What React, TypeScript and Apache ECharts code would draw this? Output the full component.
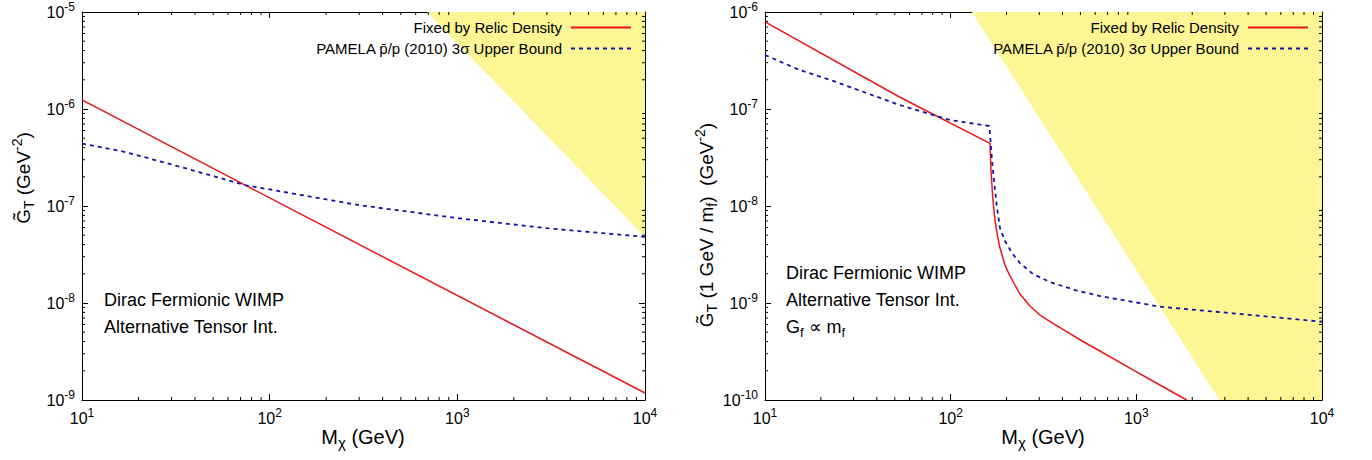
import React, { useEffect, useRef } from 'react';
import * as echarts from 'echarts';

const RELIC_NAME = 'Fixed by Relic Density';
const PAMELA_NAME = 'PAMELA p\u0304/p (2010) 3\u03c3 Upper Bound';

// Left panel: [M_chi (GeV), G_T (GeV^-2)]
const leftRelic: number[][] = [[10, 1.24e-6], [74, 1.64e-7], [170, 7.1e-8], [10000, 1.18e-9]];
const leftPamela: number[][] = [[10, 4.4e-7], [16, 3.7e-7], [25, 2.95e-7], [40, 2.3e-7], [74, 1.64e-7], [100, 1.48e-7], [300, 1.02e-7], [1000, 7.5e-8], [3000, 5.9e-8], [10000, 4.8e-8]];
const leftExcluded: number[][] = [[690, 1e-5], [10000, 4.8e-8]];

// Right panel: [M_chi (GeV), G_T (1 GeV / m_f) (GeV^-2)]
const rightRelic: number[][] = [
  [10, 7.9e-7], [53, 1.33e-7], [162.8, 4.43e-8], [164.8, 2.35e-8], [168.9, 1.153e-8], [173.2, 7.17e-9],
  [178.7, 4.91e-9], [184.3, 3.69e-9], [196.1, 2.46e-9], [208.6, 1.9e-9], [222, 1.533e-9], [236.1, 1.238e-9],
  [267.3, 9.31e-10], [302.7, 7.52e-10], [355.6, 6.15e-10], [421.4, 5.06e-10], [515.8, 4.01e-10],
  [636.8, 3.2e-10], [959, 2.04e-10], [1340, 1.427e-10], [1866, 1.0e-10],
];
const rightPamela: number[][] = [
  [10, 3.6e-7], [15.4, 2.52e-7], [22.4, 2.0e-7], [53, 1.1e-7], [99, 7.7e-8], [161.4, 6.68e-8],
  [163.8, 4.79e-8], [166.9, 2.98e-8], [171.1, 1.85e-8], [176.9, 1.02e-8], [184.3, 5.93e-9], [196.1, 4.36e-9],
  [213.8, 3.28e-9], [236.1, 2.58e-9], [277.5, 1.99e-9], [342.4, 1.646e-9], [467, 1.36e-9], [636.8, 1.18e-9],
  [1340, 9.16e-10], [3313, 7.83e-10], [10000, 6.41e-10],
];
const rightExcluded: number[][] = [[130, 1e-6], [2800, 1e-10], [10000, 1e-10]];

const xRange = [10, 1e4];
const leftYRange = [1e-9, 1e-5];
const rightYRange = [1e-10, 1e-6];
const minorMultipliers = [2, 3, 4, 5, 6, 7, 8, 9];

const FONT = '"Liberation Sans", Arial, Helvetica, sans-serif';
const RED = '#e8161b';
const BLUE = '#1414a8';
const YELLOW = '#fcf695';

function minorValues(lo: number, hi: number): number[] {
  const out: number[] = [];
  for (let d = lo; d < hi * 0.999; d *= 10) {
    for (const m of minorMultipliers) out.push(d * m);
  }
  return out;
}

const supRich = {
  b: { fontSize: 16, lineHeight: 22, fontFamily: FONT, color: '#000' },
  s: { fontSize: 12, lineHeight: 12, verticalAlign: 'top', fontFamily: FONT, color: '#000' },
};

const labelFmt = (v: number) => `{b|10}{s|${Math.round(Math.log10(v))}}`;

function makeAxes(gridIndex: number, yr: number[]) {
  const axisLine = { show: true, onZero: false, lineStyle: { color: '#000', width: 1 } };
  const tick = { show: true, inside: true, length: 6, lineStyle: { color: '#000', width: 1 } };
  const x = [
    {
      type: 'log', gridIndex, min: xRange[0], max: xRange[1], position: 'bottom',
      axisLine, axisTick: tick, splitLine: { show: false },
      axisLabel: { formatter: labelFmt, rich: supRich, margin: 7 },
    },
    {
      type: 'log', gridIndex, min: xRange[0], max: xRange[1], position: 'top',
      axisLine, axisTick: tick, splitLine: { show: false }, axisLabel: { show: false },
    },
  ];
  const y = [
    {
      type: 'log', gridIndex, min: yr[0], max: yr[1], position: 'left',
      axisLine, axisTick: tick, splitLine: { show: false },
      axisLabel: { formatter: labelFmt, rich: supRich, margin: 7 },
    },
    {
      type: 'log', gridIndex, min: yr[0], max: yr[1], position: 'right',
      axisLine, axisTick: tick, splitLine: { show: false }, axisLabel: { show: false },
    },
  ];
  return { x, y };
}

function minorTickSeries(xIdx: number, yIdx: number, yr: number[]) {
  const tickStyle = { stroke: '#000', lineWidth: 1 };
  const xs = minorValues(xRange[0], xRange[1]);
  const ys = minorValues(yr[0], yr[1]);
  return [
    {
      type: 'custom', xAxisIndex: xIdx, yAxisIndex: yIdx, silent: true, z: 6, clip: false,
      data: xs.map((v) => [v, yr[0]]),
      renderItem: (_p: any, api: any) => {
        const v = api.value(0);
        const b = api.coord([v, yr[0]]);
        const t = api.coord([v, yr[1]]);
        return {
          type: 'group',
          children: [
            { type: 'line', shape: { x1: b[0], y1: b[1], x2: b[0], y2: b[1] - 3 }, style: tickStyle },
            { type: 'line', shape: { x1: t[0], y1: t[1], x2: t[0], y2: t[1] + 3 }, style: tickStyle },
          ],
        };
      },
    },
    {
      type: 'custom', xAxisIndex: xIdx, yAxisIndex: yIdx, silent: true, z: 6, clip: false,
      data: ys.map((v) => [xRange[0], v]),
      renderItem: (_p: any, api: any) => {
        const v = api.value(1);
        const l = api.coord([xRange[0], v]);
        const r = api.coord([xRange[1], v]);
        return {
          type: 'group',
          children: [
            { type: 'line', shape: { x1: l[0], y1: l[1], x2: l[0] + 3, y2: l[1] }, style: tickStyle },
            { type: 'line', shape: { x1: r[0], y1: r[1], x2: r[0] - 3, y2: r[1] }, style: tickStyle },
          ],
        };
      },
    },
  ];
}

function panelSeries(xIdx: number, yIdx: number, relic: number[][], pamela: number[][], excl: number[][]) {
  return [
    {
      type: 'line', xAxisIndex: xIdx, yAxisIndex: yIdx, data: excl, symbol: 'none', silent: true, z: 1,
      lineStyle: { width: 0, opacity: 0 },
      areaStyle: { color: YELLOW, opacity: 1, origin: 'end' },
    },
    {
      name: RELIC_NAME, type: 'line', xAxisIndex: xIdx, yAxisIndex: yIdx, data: relic, symbol: 'none', z: 3,
      lineStyle: { color: RED, width: 1.5 }, itemStyle: { color: RED },
    },
    {
      name: PAMELA_NAME, type: 'line', xAxisIndex: xIdx, yAxisIndex: yIdx, data: pamela, symbol: 'none', z: 3,
      lineStyle: { color: BLUE, width: 1.8, type: [4, 4] }, itemStyle: { color: BLUE },
    },
  ];
}

const nameRich = {
  m: { fontSize: 19, fontFamily: FONT, color: '#000', lineHeight: 26 },
  s: { fontSize: 14, fontFamily: FONT, color: '#000', lineHeight: 14, verticalAlign: 'bottom' },
  p: { fontSize: 14, fontFamily: FONT, color: '#000', lineHeight: 14, verticalAlign: 'top' },
};
const xNameRich = {
  m: { fontSize: 20, fontFamily: FONT, color: '#000', lineHeight: 26 },
  s: { fontSize: 15, fontFamily: FONT, color: '#000', lineHeight: 14, verticalAlign: 'bottom' },
};
const annRich = {
  m: { fontSize: 18, fontFamily: FONT, color: '#000', lineHeight: 24 },
  s: { fontSize: 13, fontFamily: FONT, color: '#000', lineHeight: 13, verticalAlign: 'bottom' },
};

function textEl(x: number, y: number, text: string, rich: any, rotation = 0, align = 'left') {
  return {
    type: 'text', x, y, rotation, z: 10,
    style: { text, rich, align, verticalAlign: 'middle', fill: '#000' },
  };
}

function legend(right: number) {
  return {
    orient: 'vertical', right, top: 20, align: 'right', padding: 0,
    itemWidth: 60, itemHeight: 14, itemGap: 6,
    itemStyle: { color: 'rgba(0,0,0,0)', borderWidth: 0, opacity: 0 },
    textStyle: { fontSize: 15, fontFamily: FONT, color: '#000', padding: [0, 4, 0, 0] },
    data: [RELIC_NAME, PAMELA_NAME],
    selectedMode: false,
  };
}

export default function App() {
  const ref = useRef<HTMLDivElement>(null);
  useEffect(() => {
    if (!ref.current) return;
    const chart = echarts.init(ref.current, null, { renderer: 'svg' });
    const a0 = makeAxes(0, leftYRange);
    const a1 = makeAxes(1, rightYRange);
    const option: any = {
      animation: false,
      backgroundColor: '#fff',
      textStyle: { fontFamily: FONT },
      grid: [
        { left: 82, top: 12, width: 563, height: 388 },
        { left: 765, top: 12, width: 557, height: 388 },
      ],
      xAxis: [...a0.x, ...a1.x],
      yAxis: [...a0.y, ...a1.y],
      legend: [legend(740), legend(63)],
      series: [
        ...panelSeries(0, 0, leftRelic, leftPamela, leftExcluded),
        ...panelSeries(2, 2, rightRelic, rightPamela, rightExcluded),
        ...minorTickSeries(0, 0, leftYRange),
        ...minorTickSeries(2, 2, rightYRange),
      ],
      graphic: [
        textEl(363, 437, '{m|M}{s|\u03c7}{m| (GeV)}', xNameRich, 0, 'center'),
        textEl(1043, 437, '{m|M}{s|\u03c7}{m| (GeV)}', xNameRich, 0, 'center'),
        textEl(23, 178, '{m|G\u0303}{s|T}{m| (GeV}{p|-2}{m|)}', nameRich, Math.PI / 2, 'center'),
        textEl(706, 225, '{m|G\u0303}{s|T}{m| (1 GeV / m}{s|f}{m|)  (GeV}{p|-2}{m|)}', nameRich, Math.PI / 2, 'center'),
        textEl(104, 300, '{m|Dirac Fermionic WIMP}', annRich),
        textEl(104, 327, '{m|Alternative Tensor Int.}', annRich),
        textEl(786, 273, '{m|Dirac Fermionic WIMP}', annRich),
        textEl(786, 300, '{m|Alternative Tensor Int.}', annRich),
        textEl(786, 327, '{m|G}{s|f}{m| \u221d m}{s|f}', annRich),
      ],
    };
    chart.setOption(option);
    return () => chart.dispose();
  }, []);
  return <div ref={ref} style={{ position: 'absolute', left: 0, top: 0, width: 1372, height: 460 }} />;
}
